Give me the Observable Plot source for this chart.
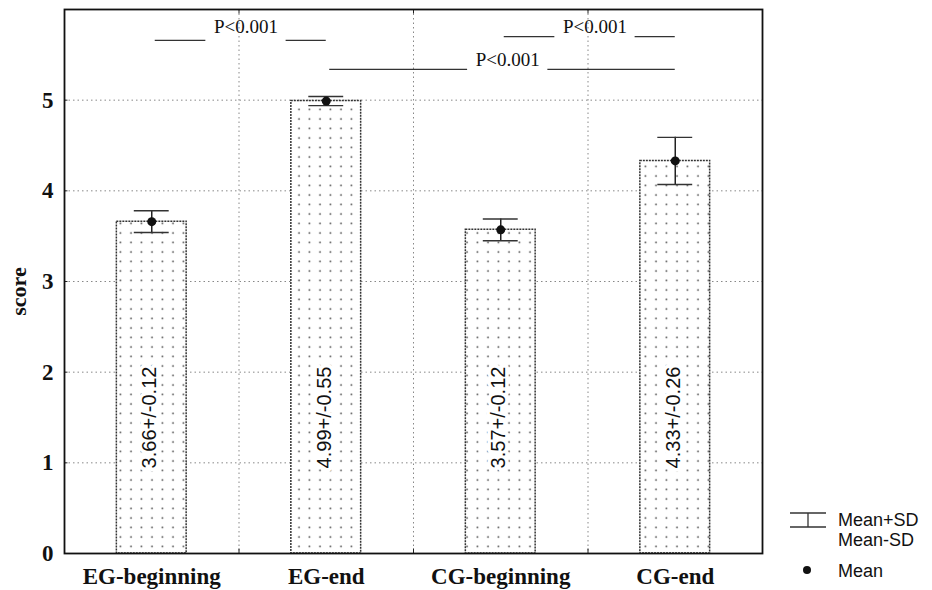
<!DOCTYPE html>
<html><head><meta charset="utf-8">
<script src="https://cdn.jsdelivr.net/npm/d3@7"></script>
<script src="https://cdn.jsdelivr.net/npm/@observablehq/plot@0.6"></script>
<style>
body{margin:0;background:#fff;}
#wrap{position:relative;width:932px;height:590px;}
.lg{position:absolute;font-family:"Liberation Sans",Arial,sans-serif;font-size:18px;line-height:20px;color:#111;white-space:nowrap;}
</style></head><body>
<div id="wrap"><div id="chart"></div>
<svg class="lg" style="left:789px;top:511px" width="38" height="18"><line x1="1" y1="2" x2="37" y2="2" stroke="#333" stroke-width="1.3"/><line x1="1" y1="16" x2="37" y2="16" stroke="#333" stroke-width="1.3"/><line x1="19" y1="2" x2="19" y2="16" stroke="#333" stroke-width="1.3"/></svg>
<div class="lg" style="left:838px;top:510px">Mean+SD</div>
<div class="lg" style="left:838px;top:530px">Mean-SD</div>
<svg class="lg" style="left:801px;top:564px" width="12" height="12"><circle cx="6" cy="6" r="4" fill="#111"/></svg>
<div class="lg" style="left:838px;top:561px">Mean</div>
</div>
<script>
const categories = ["EG-beginning", "EG-end", "CG-beginning", "CG-end"];
const means = [3.66, 4.99, 3.57, 4.33];
const sdLabels = [0.12, 0.55, 0.12, 0.26];
const sdDrawn = [0.12, 0.05, 0.12, 0.26];
const yTicks = [0, 1, 2, 3, 4, 5];
const compFrom = [0, 2, 1];
const compTo = [1, 3, 3];
const compLineY = [5.66, 5.70, 5.34];
const compTextY = [5.81, 5.81, 5.44];
const compLabels = ["P<0.001", "P<0.001", "P<0.001"];

const idx = categories.map((_, i) => i);
const comps = compFrom.map((f, k) => ({f, t: compTo[k], ly: compLineY[k], ty: compTextY[k], label: compLabels[k], mid: (f + compTo[k]) / 2 + 0.5 + 0.04}));
const gap = 0.23;
const segs = comps.flatMap(c => [
  {x1: c.f + 0.52, x2: c.mid - gap, y: c.ly},
  {x1: c.mid + gap, x2: c.t + 0.5, y: c.ly}
]);
const grid = {stroke: "#888", strokeWidth: 1, strokeDasharray: "1.5,3"};
const serif = "Liberation Serif, Times New Roman, serif";

const svg = Plot.plot({
  width: 932, height: 590,
  marginLeft: 64, marginTop: 9, marginBottom: 37, marginRight: 170,
  x: {domain: [0, 4]},
  y: {domain: [0, 6]},
  style: {background: "white", color: "#111"},
  marks: [
    Plot.ruleY(yTicks.filter(d => d > 0), grid),
    Plot.ruleX([1, 2, 3], grid),
    Plot.rectY(idx, {x1: i => i + 0.3, x2: i => i + 0.7, y1: 0, y2: i => means[i], fill: "url(#dots)", stroke: "#333", strokeWidth: 1.5, strokeDasharray: "2,1"}),
    Plot.text(idx, {x: i => i + 0.49, y: 1.5, text: i => `${means[i].toFixed(2)}+/-${sdLabels[i].toFixed(2)}`, rotate: -90, fontSize: 20, fontFamily: "Liberation Sans, Arial, sans-serif", fill: "#111", stroke: "white", strokeWidth: 7}),
    Plot.ruleX(idx, {x: i => i + 0.5, y1: i => means[i] - sdDrawn[i], y2: i => means[i] + sdDrawn[i], stroke: "#222", strokeWidth: 1.5}),
    Plot.ruleY(idx, {x1: i => i + 0.4, x2: i => i + 0.6, y: i => means[i] + sdDrawn[i], stroke: "#333", strokeWidth: 1.4}),
    Plot.ruleY(idx, {x1: i => i + 0.4, x2: i => i + 0.6, y: i => means[i] - sdDrawn[i], stroke: "#333", strokeWidth: 1.4}),
    Plot.dot(idx, {x: i => i + 0.5, y: i => means[i], r: 4.5, fill: "#111"}),
    Plot.ruleY(segs, {x1: "x1", x2: "x2", y: "y", stroke: "#333", strokeWidth: 1.3}),
    Plot.text(comps, {x: "mid", y: "ty", text: "label", fontSize: 19, fontFamily: serif, fill: "#111"}),
    Plot.ruleX([1, 2, 3], {y1: 0, y2: 0.05, stroke: "#222"}),
    Plot.ruleX([1, 2, 3], {y1: 5.95, y2: 6, stroke: "#222"}),
    Plot.ruleY(yTicks, {x1: 0, x2: 0.02, stroke: "#222"}),
    Plot.frame({stroke: "#111", strokeWidth: 1.8}),
    Plot.axisY(yTicks, {tickFormat: d => String(d), tickSize: 0, tickPadding: 11, fontSize: 23, fontWeight: "bold", fontFamily: serif, label: null}),
    Plot.axisX(idx.map(i => i + 0.5), {tickFormat: d => categories[Math.floor(d)], tickSize: 0, tickPadding: 14, fontSize: 23, fontWeight: "bold", fontFamily: serif, label: null}),
    Plot.text(["score"], {frameAnchor: "left", textAnchor: "middle", dx: -46, dy: 10, rotate: -90, text: d => d, fontSize: 22, fontWeight: "bold", fontFamily: serif, fill: "#111"})
  ]
});

const defs = d3.select(svg).insert("defs", ":first-child");
const pat = defs.append("pattern").attr("id", "dots").attr("patternUnits", "userSpaceOnUse").attr("width", 10.5).attr("height", 9.5);
pat.append("rect").attr("width", 10.5).attr("height", 9.5).attr("fill", "white");
pat.append("circle").attr("cx", 5).attr("cy", 5).attr("r", 0.9).attr("fill", "#555");

document.getElementById("chart").appendChild(svg);
</script>
</body></html>
